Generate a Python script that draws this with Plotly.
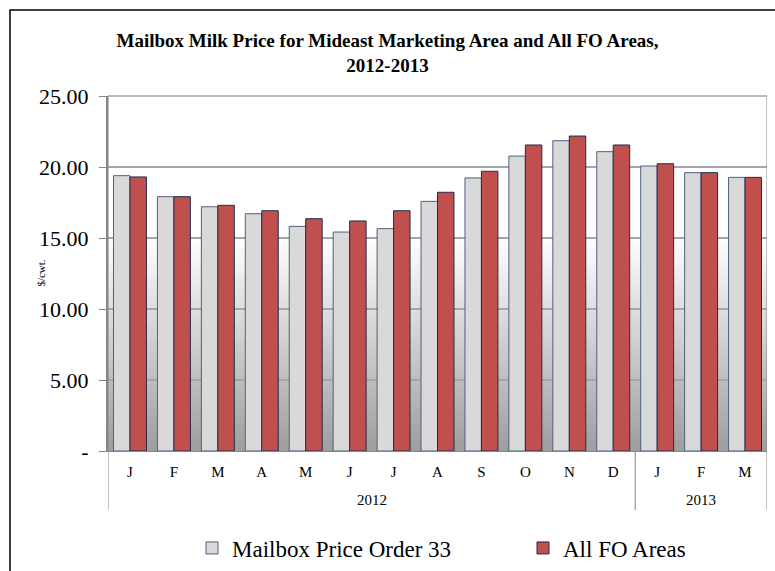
import plotly.graph_objs as go

# Data
months = ['J', 'F', 'M', 'A', 'M', 'J', 'J', 'A', 'S', 'O', 'N', 'D', 'J', 'F', 'M']
years = ['2012', '2013']
year_centres = [5.5, 13]          # middle of each year's group of months
mailbox_33 = [19.39, 17.91, 17.20, 16.71, 15.82, 15.42, 15.66, 17.58, 19.23,
              20.77, 21.85, 21.08, 20.07, 19.60, 19.27]
all_fo = [19.30, 17.91, 17.30, 16.92, 16.36, 16.20, 16.92, 18.22, 19.70,
          21.55, 22.18, 21.55, 20.23, 19.60, 19.27]
y_ticks = [0, 5, 10, 15, 20, 25]
y_tick_text = ['-', '5.00', '10.00', '15.00', '20.00', '25.00']

serif = 'Liberation Serif'
pos = list(range(len(months)))

data = [
    go.Bar(x=pos, y=mailbox_33, name='Mailbox Price Order 33', legend='legend',
           marker=dict(color='#D9D9D9', line=dict(color='#4F6080', width=1))),
    go.Bar(x=pos, y=all_fo, name='All FO Areas', legend='legend2',
           marker=dict(color='#C0504D', line=dict(color='#1F2D4D', width=1))),
]

# plot-area gradient (white fading to grey towards the floor)
shapes = []
steps = 40
for i in range(steps):
    y0 = 15 * i / steps
    y1 = 15 * (i + 1) / steps + 0.05
    t = (i + 0.5) / steps
    g = int(158 + (255 - 158) * t)
    shapes.append(dict(type='rect', xref='x domain', yref='y', x0=0, x1=1, y0=y0, y1=y1,
                       fillcolor='rgb(%d,%d,%d)' % (g, g, g), line=dict(width=0), layer='below'))

# category dividers / frame lines
line_style = dict(color='#868686', width=1)
shapes.append(dict(type='line', xref='x', yref='paper', x0=-0.5, x1=-0.5, y0=-0.166, y1=1,
                   line=line_style))
shapes.append(dict(type='line', xref='x', yref='paper', x0=14.5, x1=14.5, y0=-0.166, y1=1,
                   line=line_style))
shapes.append(dict(type='line', xref='x', yref='paper', x0=11.5, x1=11.5, y0=-0.166, y1=0,
                   line=line_style))
shapes.append(dict(type='line', xref='paper', yref='paper', x0=0, x1=1, y0=1, y1=1,
                   line=dict(color='#A6A6A6', width=1.5), layer='below'))

# outer chart border
shapes.append(dict(type='rect', xref='paper', yref='paper', x0=-0.1487, x1=1.05, y0=-0.5,
                   y1=1.242, line=dict(color='black', width=1.5), fillcolor='rgba(0,0,0,0)',
                   layer='above'))

annotations = [dict(x=xc, y=-0.138, xref='x', yref='paper', text=yr, showarrow=False,
                    yanchor='middle', font=dict(family=serif, size=15, color='black'))
               for xc, yr in zip(year_centres, years)]
annotations.append(dict(x=-0.103, y=0.5, xref='paper', yref='paper', text='$/cwt.',
                        textangle=-90, showarrow=False, xanchor='center', yanchor='middle',
                        font=dict(family=serif, size=11, color='black')))

legend_font = dict(family=serif, size=23, color='black')

layout = go.Layout(
    width=775, height=571,
    margin=dict(l=108, r=8, t=96, b=120, autoexpand=False),
    paper_bgcolor='white', plot_bgcolor='rgba(0,0,0,0)',
    title=dict(text='<b>Mailbox Milk Price for Mideast Marketing Area and All FO Areas,<br>2012-2013</b>',
               x=0.5, xanchor='center', y=0.917, yanchor='top',
               font=dict(family=serif, size=19, color='black')),
    font=dict(family=serif, color='black'),
    barmode='group', bargap=0.25, bargroupgap=0,
    xaxis=dict(range=[-0.5, 14.5], tickvals=pos, ticktext=months, showline=True,
               linecolor='#868686', linewidth=1, ticks='', ticklabelstandoff=7,
               tickfont=dict(family=serif, size=15), showgrid=False, zeroline=False,
               automargin=False),
    yaxis=dict(range=[0, 25], tickvals=y_ticks, ticktext=y_tick_text,
               tickfont=dict(family=serif, size=22), showgrid=True, gridcolor='#A6A6A6',
               gridwidth=1.5, showline=True, linecolor='#868686', linewidth=2,
               ticks='outside', ticklen=7, tickcolor='#868686', zeroline=False,
               ticklabelstandoff=6, automargin=False),
    legend=dict(orientation='h', xref='container', yref='container', x=192 / 775,
                xanchor='left', y=1 - 548 / 571, yanchor='middle', font=legend_font),
    legend2=dict(orientation='h', xref='container', yref='container', x=523 / 775,
                 xanchor='left', y=1 - 548 / 571, yanchor='middle', font=legend_font),
    shapes=shapes,
    annotations=annotations,
    showlegend=True,
)

fig = go.Figure(data=data, layout=layout)
# drop the browser's default page margin so the figure sits at the window origin
fig.write_html('out.html', config={'displayModeBar': False},
               post_script="document.body.style.margin='0';")
